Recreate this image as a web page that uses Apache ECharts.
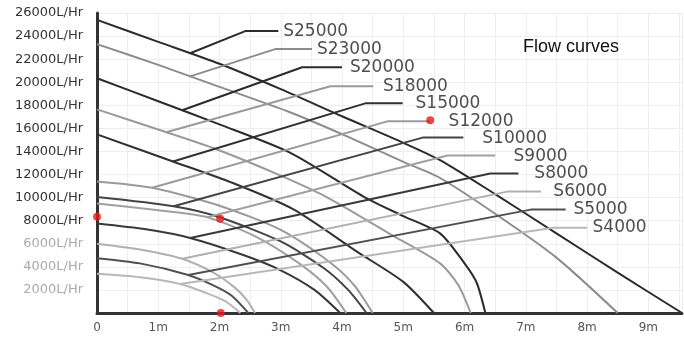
<!DOCTYPE html>
<html><head><meta charset="utf-8">
<script src="https://cdn.jsdelivr.net/npm/echarts@6/dist/echarts.min.js"></script>
<style>html,body{margin:0;padding:0;background:#fff}#c{width:684px;height:350px}</style>
</head><body><div id="c"></div>
<script>
// Pump curves: [head (m), flow (L/Hr)]
const S25000 = [[0,25400],[1,23500],[2,21600],[3,19400],[4,17050],[5,14750],[5.6,13250],[6.5,10300],[7.5,6900],[8.5,3500],[9.55,0]];
const S23000 = [[0,23300],[1,21500],[2,19600],[3.15,17400],[4,15500],[5,13100],[5.6,11700],[6.5,8600],[7.5,4800],[8.5,0]];
const S20000 = [[0,20350],[1,18350],[2,16350],[3.15,13900],[4.38,10000],[5,8400],[5.6,6900],[6,4300],[6.2,2600],[6.34,0]];
const S18000 = [[0,17650],[1,15900],[1.96,14170],[3,11900],[3.8,9900],[4.8,6800],[5.6,4300],[5.9,2400],[6.1,0]];
const S15000 = [[0,15480],[1.24,13130],[2.2,11300],[3.2,9000],[4.25,5300],[5,2700],[5.5,0]];
const S12000 = [[0,11400],[0.9,10850],[2,9300],[3,7200],[3.8,4400],[4.2,2400],[4.5,0]];
const S10000 = [[0,10050],[1.25,9250],[2,8300],[3,6200],[3.7,3900],[4.1,2000],[4.4,0]];
const S9000  = [[0,9500],[1,8900],[1.8,8300],[2.6,6600],[3.3,4300],[3.75,2300],[4.07,0]];
const S8000  = [[0,7750],[0.8,7250],[1.52,6500],[2.4,5000],[3,3700],[3.55,2000],[3.97,0]];
const S6000  = [[0,6000],[0.7,5500],[1.39,4700],[1.9,3500],[2.25,2200],[2.45,1100],[2.58,0]];
const S5000  = [[0,4750],[0.7,4300],[1.49,3300],[1.9,2400],[2.2,1500],[2.47,0]];
const S4000  = [[0,3400],[0.7,3100],[1.36,2520],[1.8,1700],[2.1,1000],[2.34,0]];

// Leader lines (annotation): point on curve -> knee -> end of horizontal
const L25000 = [[1.52,22510],[2.42,24430],[2.96,24430]];
const L23000 = [[1.52,20510],[2.91,22870],[3.51,22870]];
const L20000 = [[1.39,17570],[3.35,21300],[4.0,21300]];
const L18000 = [[1.13,15670],[3.81,19650],[4.51,19650]];
const L15000 = [[1.24,13130],[4.38,18170],[4.99,18170]];
const L12000 = [[0.9,10850],[4.74,16610],[5.44,16610]];
const L10000 = [[1.25,9250],[5.33,15220],[5.98,15220]];
const L9000  = [[1.8,8300],[5.72,13650],[6.50,13650]];
const L8000  = [[1.52,6500],[6.42,12090],[6.88,12090]];
const L6000  = [[1.39,4700],[6.70,10520],[7.25,10520]];
const L5000  = [[1.49,3300],[7.08,8960],[7.65,8960]];
const L4000  = [[1.36,2520],[7.45,7390],[8.0,7390]];

const pumpNames = ['S25000','S23000','S20000','S18000','S15000','S12000','S10000','S9000','S8000','S6000','S5000','S4000'];
const labelAnchors = [[3.04,24430],[3.59,22870],[4.13,21300],[4.67,19650],[5.20,18170],[5.74,16610],[6.29,15130],[6.80,13570],[7.14,12090],[7.45,10520],[7.78,8960],[8.09,7390]];
const redDots = [[0,8350],[2.01,8170],[5.44,16700],[2.02,0]];
const xTickLabels = ['0','1m','2m','3m','4m','5m','6m','7m','8m','9m'];
const yTickLabels = ['2000L/Hr','4000L/Hr','6000L/Hr','8000L/Hr','10000L/Hr','12000L/Hr','14000L/Hr','16000L/Hr','18000L/Hr','20000L/Hr','22000L/Hr','24000L/Hr','26000L/Hr'];

const curves = [S25000,S23000,S20000,S18000,S15000,S12000,S10000,S9000,S8000,S6000,S5000,S4000];
const leaders = [L25000,L23000,L20000,L18000,L15000,L12000,L10000,L9000,L8000,L6000,L5000,L4000];
const colors = ['#2b2b2b','#8c8c8c','#2b2b2b','#9a9a9a','#303030','#9a9a9a','#444444','#a0a0a0','#383838','#b0b0b0','#505050','#b8b8b8'];

const series = [];
curves.forEach((d,i)=>{
  series.push({type:'line', name:pumpNames[i], data:d, symbol:'none', smooth:0.25,
    lineStyle:{color:colors[i], width:2}, z:2, silent:true});
});
leaders.forEach((d,i)=>{
  series.push({type:'line', name:'L'+pumpNames[i], data:d, symbol:'none',
    lineStyle:{color:colors[i], width:2}, z:3, silent:true});
});
series.push({type:'scatter', data:labelAnchors.map((p,i)=>({value:p, name:pumpNames[i]})), symbolSize:0, z:4,
  label:{show:true, position:'right', distance:0, formatter:p=>p.name, color:'#222', fontSize:17, fontFamily:'DejaVu Sans'}});
series.push({type:'scatter', data:redDots, symbolSize:8, itemStyle:{color:'#e8191a'}, z:10});

const chart = echarts.init(document.getElementById('c'), null, {renderer:'canvas'});
chart.setOption({
  animation:false,
  title:{text:'Flow curves', left:523, top:38, padding:0, textStyle:{fontSize:18, fontWeight:'normal', fontFamily:'Liberation Sans', color:'#111'}},
  grid:{left:97, right:2, top:13, bottom:37},
  xAxis:{type:'value', min:0, max:9.55, interval:0.5,
    axisLine:{lineStyle:{color:'#333', width:3}}, axisTick:{show:false},
    axisLabel:{margin:9, fontSize:12, fontFamily:'DejaVu Sans', color:'#555',
      formatter:v=>Number.isInteger(v)? xTickLabels[v] : '', showMaxLabel:false},
    splitLine:{show:true, lineStyle:{color:'#eeeeee', width:1}}},
  yAxis:{type:'value', min:0, max:26000, interval:2000,
    axisLine:{show:true, lineStyle:{color:'#333', width:3}}, axisTick:{show:false},
    axisLabel:{margin:14, fontSize:13, fontFamily:'DejaVu Sans',
      color:v=> v>=8000 ? '#333' : '#aaaaaa',
      formatter:v=> v===0 ? '' : yTickLabels[v/2000-1]},
    splitLine:{show:true, lineStyle:{color:'#eeeeee', width:1}}},
  series
});
</script></body></html>
